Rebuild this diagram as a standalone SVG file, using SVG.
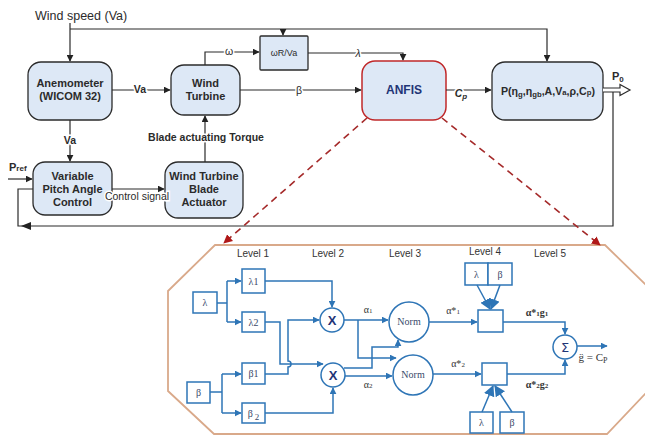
<svg xmlns="http://www.w3.org/2000/svg" width="645" height="439" viewBox="0 0 645 439">
<defs>
<marker id="ak" viewBox="0 0 10 10" refX="9" refY="5" markerWidth="7" markerHeight="7" orient="auto" markerUnits="userSpaceOnUse"><path d="M0,0 L10,5 L0,10 z" fill="#222"/></marker>
<marker id="ab" viewBox="0 0 10 10" refX="9" refY="5" markerWidth="7" markerHeight="7" orient="auto" markerUnits="userSpaceOnUse"><path d="M0,0 L10,5 L0,10 z" fill="#2e75b6"/></marker>
<marker id="abig" viewBox="0 0 10 10" refX="9" refY="5" markerWidth="11" markerHeight="11" orient="auto" markerUnits="userSpaceOnUse"><path d="M0,0 L10,5 L0,10 z" fill="#2e75b6"/></marker>
<marker id="ar" viewBox="0 0 10 10" refX="9" refY="5" markerWidth="9" markerHeight="9" orient="auto" markerUnits="userSpaceOnUse"><path d="M0,0 L10,5 L0,10 z" fill="#b01818"/></marker>
</defs>
<style>
.blk{fill:#dde8f6;stroke:#2b2b2b;stroke-width:1.3}
.bt{font-family:"Liberation Sans",Arial,sans-serif;font-weight:bold;font-size:11px;fill:#2b2b2b;text-anchor:middle}
.lbl{font-family:"Liberation Sans",Arial,sans-serif;font-size:10.5px;fill:#2b2b2b;text-anchor:middle;stroke:#fff;stroke-width:3;paint-order:stroke}
.ln{fill:none;stroke:#2b2b2b;stroke-width:1.2}
.bl{fill:none;stroke:#2e75b6;stroke-width:1.5}
.ib{fill:#fff;stroke:#2e75b6;stroke-width:1.5}
.st{font-family:"Liberation Serif","Times New Roman",serif;font-size:10px;fill:#3a4a6a;text-anchor:middle}
.lv{font-family:"Liberation Sans",Arial,sans-serif;font-size:10px;fill:#333;text-anchor:middle}
.al{font-family:"Liberation Serif","Times New Roman",serif;font-size:10px;fill:#333;text-anchor:middle}
</style>
<rect width="645" height="439" fill="#fff"/>

<text x="35" y="20" font-family="Liberation Sans,Arial,sans-serif" font-size="12.5" fill="#2b2b2b">Wind speed (Va)</text>

<g id="octagon">
<polygon points="215,245 605,245 646,285 646,393 607,434 214,434 168,391 168,291" fill="#fff" stroke="#d9a98a" stroke-width="1.8"/>
</g>

<g id="anemometer"><rect class="blk" x="28" y="62" width="84" height="58" rx="13"/><text class="bt" x="70" y="87">Anemometer</text><text class="bt" x="70" y="100">(WICOM 32)</text></g>
<g id="wind-turbine"><rect class="blk" x="171" y="65" width="69" height="50" rx="13"/><text class="bt" x="205.5" y="87">Wind</text><text class="bt" x="205.5" y="100">Turbine</text></g>
<g id="omega-r"><rect class="blk" x="260" y="36" width="48" height="34" rx="1"/><text x="284" y="56" font-family="Liberation Sans,Arial,sans-serif" font-size="9" fill="#2b2b2b" text-anchor="middle">ωR/Va</text></g>
<g id="anfis"><rect x="362" y="61" width="84" height="59" rx="13" fill="#dde8f6" stroke="#c0282a" stroke-width="1.5"/><text class="bt" x="404" y="94" font-size="12" fill="#1f3577" style="fill:#1f3577;font-size:12px">ANFIS</text></g>
<g id="power"><rect class="blk" x="492" y="62" width="111" height="58" rx="13"/><text class="bt" x="548" y="95" textLength="94" lengthAdjust="spacingAndGlyphs">P(η<tspan font-size="8" dy="2">g</tspan><tspan dy="-2">,η</tspan><tspan font-size="8" dy="2">gb</tspan><tspan dy="-2">,A,V</tspan><tspan font-size="8">a</tspan>,ρ,C<tspan font-size="8">p</tspan>)</text></g>
<g id="pitch-control"><rect class="blk" x="33" y="162" width="79" height="53" rx="12"/><text class="bt" x="72.5" y="180">Variable</text><text class="bt" x="72.5" y="193">Pitch Angle</text><text class="bt" x="72.5" y="206">Control</text></g>
<g id="actuator"><rect class="blk" x="165" y="162" width="78" height="56" rx="13"/><text class="bt" x="204" y="180">Wind Turbine</text><text class="bt" x="204" y="193">Blade</text><text class="bt" x="204" y="206">Actuator</text></g>

<g id="connectors">
<path class="ln" d="M70,23 V61" marker-end="url(#ak)"/>
<path class="ln" d="M70,29 H547 V61" marker-end="url(#ak)"/>
<path class="ln" d="M283,29 V35" marker-end="url(#ak)"/>
<path class="ln" d="M205,65 V52 H259" marker-end="url(#ak)"/>
<text class="lbl" x="229" y="55">ω</text>
<path class="ln" d="M308,53 H403 V60" marker-end="url(#ak)"/>
<text class="lbl" x="358" y="57" font-style="italic">λ</text>
<path class="ln" d="M112,90 H170" marker-end="url(#ak)"/>
<text class="lbl" x="140" y="93" font-weight="bold" font-size="9">Va</text>
<path class="ln" d="M240,90 H361" marker-end="url(#ak)"/>
<text class="lbl" x="299" y="94">β</text>
<path class="ln" d="M446,90 H491" marker-end="url(#ak)"/>
<text class="lbl" x="461" y="97" font-weight="bold" font-style="italic">C<tspan font-size="8" dy="2">p</tspan></text>
<path class="ln" d="M70,120 V161" marker-end="url(#ak)"/>
<text class="lbl" x="70" y="144" font-weight="bold" font-size="9">Va</text>
<path class="ln" d="M112,189 H164" marker-end="url(#ak)" stroke="#666"/>
<text class="lbl" x="137" y="200" font-size="11">Control signal</text>
<path class="ln" d="M205,162 V116" marker-end="url(#ak)"/>
<text class="lbl" x="206" y="141" font-weight="bold" font-size="10.5">Blade actuating Torque</text>
<path class="ln" d="M8,179 H32" marker-end="url(#ak)" stroke-width="1.6"/>
<text x="9" y="171" font-family="Liberation Sans,Arial,sans-serif" font-size="11" font-weight="bold" fill="#2b2b2b">P<tspan font-size="8">ref</tspan></text>
<path class="ln" d="M613,90 V226 H18 V189 H33"/>
<path d="M21,226 L31,222 L31,230 z" fill="#222"/>
<path d="M603,88 H620 V84.5 L630,90 L620,95.5 V92 H603" fill="#fff" stroke="#2b2b2b" stroke-width="1.2"/>
<text x="612" y="80" font-family="Liberation Sans,Arial,sans-serif" font-size="11" font-weight="bold" fill="#2b2b2b">P<tspan font-size="8" dy="2">0</tspan></text>
<path d="M367,118 L224,243" fill="none" stroke="#a52a2a" stroke-width="1.6" stroke-dasharray="7,5" marker-end="url(#ar)"/>
<path d="M442,118 L600,245" fill="none" stroke="#a52a2a" stroke-width="1.6" stroke-dasharray="7,5" marker-end="url(#ar)"/>
</g>

<g id="levels">
<text class="lv" x="253" y="257">Level 1</text>
<text class="lv" x="328" y="257">Level 2</text>
<text class="lv" x="405" y="257">Level 3</text>
<text class="lv" x="485" y="255">Level 4</text>
<text class="lv" x="550" y="257">Level 5</text>
</g>

<g id="in-lambda"><rect class="ib" x="193" y="292" width="24" height="21"/><text class="st" x="205" y="306">λ</text></g>
<g id="lambda1"><rect class="ib" x="242" y="269" width="23" height="24"/><text class="st" x="253.5" y="285">λ1</text></g>
<g id="lambda2"><rect class="ib" x="242" y="312" width="23" height="20"/><text class="st" x="253.5" y="326">λ2</text></g>
<g id="in-beta"><rect class="ib" x="187" y="382" width="23" height="21"/><text class="st" x="198.5" y="396">β</text></g>
<g id="beta1"><rect class="ib" x="242" y="363" width="23" height="21"/><text class="st" x="253.5" y="377">β1</text></g>
<g id="beta2"><rect class="ib" x="242" y="403" width="23" height="20"/><text class="st" x="253.5" y="417">β<tspan font-size="9" dx="2" dy="3">2</tspan></text></g>
<g id="x1"><circle class="ib" cx="332" cy="320" r="12"/><text x="332" y="325" font-family="Liberation Sans,Arial,sans-serif" font-size="13" font-weight="bold" fill="#1f3577" text-anchor="middle">X</text></g>
<g id="x2"><circle class="ib" cx="333" cy="375" r="12"/><text x="333" y="380" font-family="Liberation Sans,Arial,sans-serif" font-size="13" font-weight="bold" fill="#1f3577" text-anchor="middle">X</text></g>
<g id="norm1"><circle class="ib" cx="409" cy="322" r="20"/><text class="st" x="409" y="325" font-size="9">Norm</text></g>
<g id="norm2"><circle class="ib" cx="413" cy="375" r="20"/><text class="st" x="413" y="378" font-size="9">Norm</text></g>
<g id="prod1"><rect class="ib" x="478" y="310" width="25" height="22"/></g>
<g id="prod2"><rect class="ib" x="482" y="363" width="25" height="22"/></g>
<g id="lb-top"><rect class="ib" x="465" y="263" width="23" height="22"/><text class="st" x="476.5" y="278">λ</text><rect class="ib" x="488" y="263" width="24" height="22"/><text class="st" x="500" y="278">β</text></g>
<g id="lb-bottom"><rect class="ib" x="470" y="412" width="23" height="21"/><text class="st" x="481.5" y="426">λ</text><rect class="ib" x="500" y="412" width="24" height="21"/><text class="st" x="512" y="426">β</text></g>
<g id="sum"><circle class="ib" cx="565" cy="347" r="12"/><text x="565" y="352" font-family="DejaVu Sans,sans-serif" font-size="13" fill="#1f3577" text-anchor="middle">Σ</text></g>

<g id="anfis-connectors">
<path class="bl" d="M217,303 H227 M227,281 V322"/>
<path class="bl" d="M227,281 H241" marker-end="url(#ab)"/>
<path class="bl" d="M227,322 H241" marker-end="url(#ab)"/>
<path class="bl" d="M210,392 H222 M222,374 V413"/>
<path class="bl" d="M222,374 H241" marker-end="url(#ab)"/>
<path class="bl" d="M222,413 H241" marker-end="url(#ab)"/>
<path class="bl" d="M265,281 H332 V307" marker-end="url(#ab)"/>
<path class="bl" d="M265,322 H280 V364 H323" marker-end="url(#ab)"/>
<path class="bl" d="M265,374 H288 V367 A3,3 0 0 0 288,361 V320 H319" marker-end="url(#ab)"/>
<path class="bl" d="M265,413 H333 V388" marker-end="url(#ab)"/>
<path class="bl" d="M344,320 H388" marker-end="url(#ab)"/>
<text class="al" x="368" y="313">α<tspan font-size="7">1</tspan></text>
<path class="bl" d="M358,320 V358 H396" marker-end="url(#ab)"/>
<path class="bl" d="M344,368 H372 V347 H398 V340" marker-end="url(#ab)"/>
<path class="bl" d="M345,376 H392" marker-end="url(#ab)"/>
<text class="al" x="368" y="388">α<tspan font-size="7">2</tspan></text>
<path class="bl" d="M429,322 H477" marker-end="url(#ab)"/>
<text class="al" x="453" y="314">α*<tspan font-size="7">1</tspan></text>
<path class="bl" d="M433,374 H481" marker-end="url(#ab)"/>
<text class="al" x="458" y="367">α*<tspan font-size="7">2</tspan></text>
<path class="bl" d="M477,285 L490,309" marker-end="url(#abig)"/>
<path class="bl" d="M500,285 L491,309" marker-end="url(#abig)"/>
<path class="bl" d="M482,412 L493,386" marker-end="url(#abig)"/>
<path class="bl" d="M512,412 L495,386" marker-end="url(#abig)"/>
<path class="bl" d="M503,322 H565 V334" marker-end="url(#ab)"/>
<text class="al" x="537" y="316" font-weight="bold">α*<tspan font-size="7">1</tspan>g<tspan font-size="7">1</tspan></text>
<path class="bl" d="M507,374 H565 V360" marker-end="url(#ab)"/>
<text class="al" x="537" y="388" font-weight="bold">α*<tspan font-size="7">2</tspan>g<tspan font-size="7">2</tspan></text>
<path class="bl" d="M577,346 H607" marker-end="url(#ab)"/>
<text x="593" y="361" font-family="Liberation Serif,Times New Roman,serif" font-size="11" fill="#333" text-anchor="middle">g̈ = C<tspan font-size="8" dy="2">P</tspan></text>
</g>
</svg>
